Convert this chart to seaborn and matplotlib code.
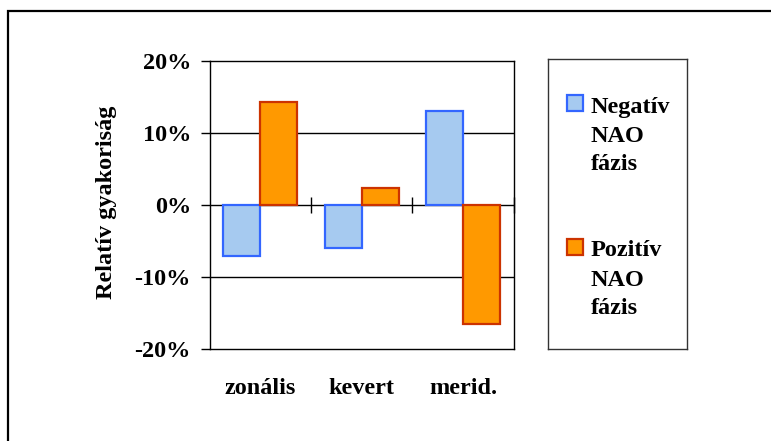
import matplotlib
matplotlib.use("Agg")
import matplotlib.pyplot as plt
import seaborn as sns
import pandas as pd
from matplotlib.patches import Rectangle
from matplotlib.ticker import PercentFormatter

# Relative frequency of circulation types by NAO phase
categories = ["zonális", "kevert", "merid."]
phases = ["Negatív NAO fázis", "Pozitív NAO fázis"]
negative_nao = [-0.071, -0.060, 0.131]
positive_nao = [0.143, 0.023, -0.165]
y_ticks = [-0.2, -0.1, 0.0, 0.1, 0.2]

fill_colors = ["#A6CAF0", "#FF9900"]
edge_colors = ["#3366FF", "#CC3300"]

df = pd.DataFrame({
    "kategória": categories * 2,
    "fázis": [phases[0]] * len(categories) + [phases[1]] * len(categories),
    "érték": negative_nao + positive_nao,
})

sns.set_theme(style="white")
plt.rcParams["font.family"] = ["Liberation Serif", "DejaVu Serif"]
plt.rcParams["font.weight"] = "bold"
plt.rcParams["axes.unicode_minus"] = False
for key in ["text.color", "axes.labelcolor", "xtick.color", "ytick.color",
            "xtick.labelcolor", "ytick.labelcolor"]:
    plt.rcParams[key] = "black"

FS = 17.5
W, H = 771, 441
fig = plt.figure(figsize=(W / 100, H / 100), dpi=100)
ax = fig.add_axes([209.7 / W, 1 - 349 / H, 304 / W, 288 / H])

sns.barplot(data=df, x="kategória", y="érték", hue="fázis",
            order=categories, hue_order=phases, palette=fill_colors,
            saturation=1, width=0.73, legend=False, ax=ax, zorder=2)
for cont, ec in zip(ax.containers, edge_colors):
    for bar in cont:
        bar.set_edgecolor(ec)
        bar.set_linewidth(1.6)

ax.set_xlim(-0.5, len(categories) - 0.5)
ax.set_ylim(y_ticks[0], y_ticks[-1])

# gridlines and category axis at zero
for y in y_ticks[1:-1]:
    ax.axhline(y, color="black", lw=1.0, zorder=0.5)
ax.vlines([i + 0.5 for i in range(len(categories))], -0.011, 0.011,
          color="black", lw=1.0, clip_on=False, zorder=1)

for s in ax.spines.values():
    s.set_visible(True)
    s.set_color("black")
    s.set_linewidth(1.0)

ax.set_yticks(y_ticks)
ax.yaxis.set_major_formatter(PercentFormatter(1.0, decimals=0))
ax.tick_params(axis="y", left=True, direction="out", length=6.5, width=1,
               color="black", labelcolor="black", pad=7, labelsize=FS)
ax.set_xticks(range(len(categories)))
ax.set_xticklabels(categories)
ax.tick_params(axis="x", bottom=False, length=0, pad=21, labelsize=FS,
               labelcolor="black")
for lab in ax.get_xticklabels() + ax.get_yticklabels():
    lab.set_fontweight("bold")
ax.set_xlabel("")
ax.set_ylabel("Relatív gyakoriság", fontsize=FS, fontweight="bold",
              color="black")
ax.yaxis.label.set_va("center")
ax.yaxis.set_label_coords(-0.338, 0.51)

# legend panel
lax = fig.add_axes([548 / W, 1 - 349 / H, (687 - 548) / W, (349 - 59) / H])
lax.set_xlim(548, 687)
lax.set_ylim(349, 59)
lax.set_xticks([])
lax.set_yticks([])
for s in lax.spines.values():
    s.set_visible(True)
    s.set_color("#333333")
    s.set_linewidth(1.0)

entry_top = [95, 239]
for top, label, fc, ec in zip(entry_top, phases, fill_colors, edge_colors):
    lax.add_patch(Rectangle((567, top), 16, 16, facecolor=fc, edgecolor=ec, lw=1.6))
    for i, word in enumerate(label.split()):
        lax.text(591, top + 17.5 + i * 29, word, fontsize=FS, fontweight="bold",
                 va="baseline", ha="left", color="black")

# outer frame
fig.add_artist(Rectangle((8 / W, -0.1), 2, (1 - 11 / H) + 0.1,
                         transform=fig.transFigure, fill=False,
                         edgecolor="black", lw=1.6))

fig.savefig("out.png", dpi=100)
